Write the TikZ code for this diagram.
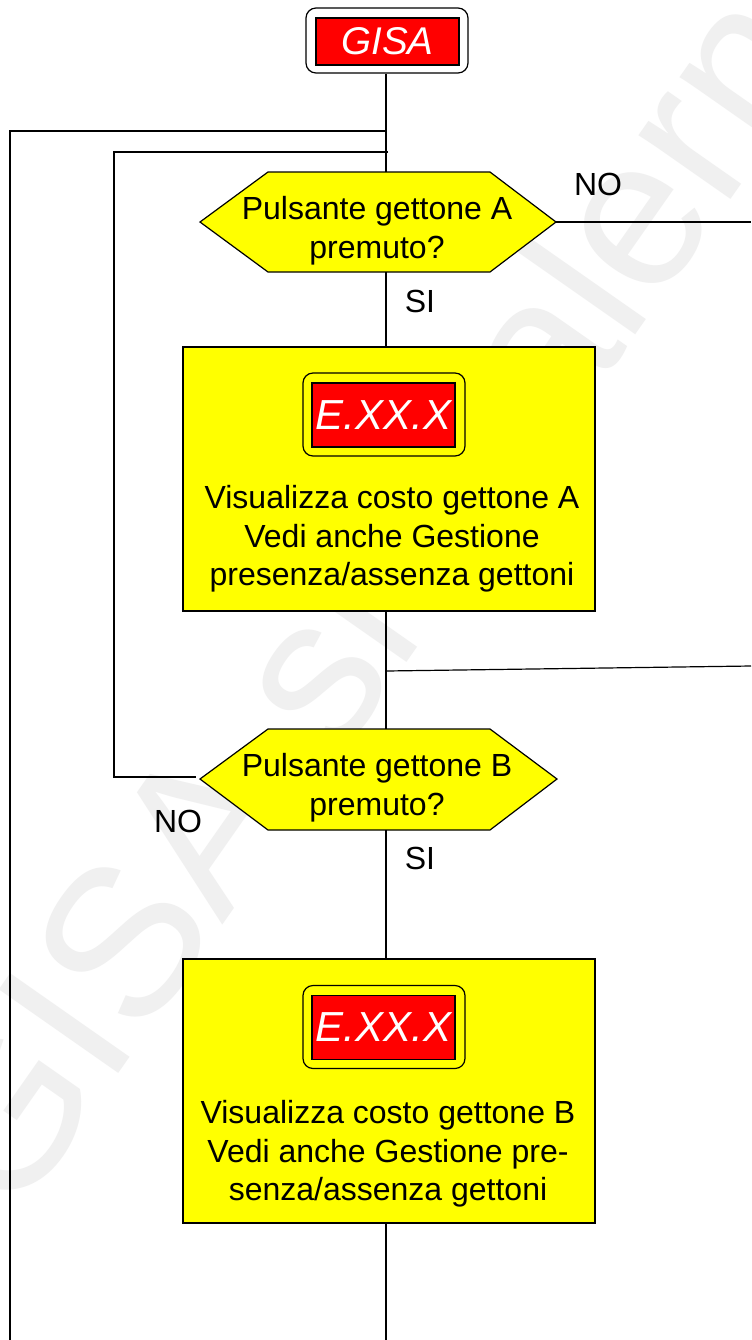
\documentclass[tikz,border=0pt]{standalone}
\usepackage{fontspec}
\setmainfont{Liberation Sans}
\usetikzlibrary{calc}
\definecolor{fyellow}{HTML}{FFFF00}
\definecolor{fred}{HTML}{FF0000}
\begin{document}
\begin{tikzpicture}[x=0.75pt,y=-0.75pt,
  conn/.style={draw=black,line width=0.9pt},
  ybox/.style={draw=black,fill=fyellow,line width=0.9pt,inner sep=0pt,minimum width=412*0.75pt,minimum height=264*0.75pt},
  hexbox/.style={draw=black,fill=fyellow,line width=0.9pt},
  badgeout/.style={draw=black,line width=0.9pt,rounded corners=7.5pt,inner sep=0pt,minimum width=162*0.75pt,minimum height=83*0.75pt},
  badgein/.style={draw=black,fill=fred,line width=0.9pt,inner sep=0pt,minimum width=143*0.75pt,minimum height=64*0.75pt,text=white,font=\fontsize{31.5}{36}\selectfont\itshape},
  txt/.style={align=center,inner sep=0pt,font=\fontsize{24}{29}\selectfont},
  lbl/.style={inner sep=0pt,font=\fontsize{24}{29}\selectfont},
  wmark/.style={text=black!6,inner sep=0pt,font=\fontsize{159}{159}\selectfont}]
\useasboundingbox (0,0) rectangle (751,1340);
\fill[white] (0,0) rectangle (751,1340);
% watermark
\node[wmark,rotate=55,anchor=base west] (wm) at (13,1225) {GISA srl salerno};
% start node
\node[badgeout,fill=white,minimum width=162*0.75pt,minimum height=65*0.75pt] (gisaO) at (387,40.5) {};
\node[badgein,minimum width=143*0.75pt,minimum height=47*0.75pt,font=\fontsize{29}{34}\selectfont\itshape] (gisa) at (387.5,41.5) {GISA};
% decision A
\coordinate (hAw) at (200,222);
\coordinate (hAe) at (556,222);
\coordinate (hAn) at (386,172);
\coordinate (hAs) at (386,272);
\draw[hexbox] (268,172) -- (490,172) -- (hAe) -- (490,272) -- (268,272) -- (hAw) -- cycle;
\node[txt] (hAt) at (377,231) {Pulsante gettone A\\premuto?};
% box A
\node[ybox] (bA) at (389,479) {};
\node[badgeout,fill=fyellow] (bdA) at (384,414.5) {};
\node[badgein] (exA) at (383.5,415) {E.XX.X};
\node[txt] (tA) at (392,539) {Visualizza costo gettone A\\Vedi anche Gestione\\presenza/assenza gettoni};
% decision B
\coordinate (hBw) at (200,779);
\coordinate (hBe) at (557,779);
\coordinate (hBn) at (386,729);
\coordinate (hBs) at (386,830);
\draw[hexbox] (268,729) -- (490,729) -- (hBe) -- (490,830) -- (268,830) -- (hBw) -- cycle;
\node[txt] (hBt) at (377,788) {Pulsante gettone B\\premuto?};
% box B
\node[ybox] (bB) at (389,1091) {};
\node[badgeout,fill=fyellow] (bdB) at (384,1027) {};
\node[badgein] (exB) at (383.5,1027.5) {E.XX.X};
\node[txt] (tB) at (388,1154) {Visualizza costo gettone B\\Vedi anche Gestione pre-\\senza/assenza gettoni};
% labels
\node[lbl] (noA) at (598,184) {NO};
\node[lbl] (siA) at (420,301) {SI};
\node[lbl] (noB) at (178,821) {NO};
\node[lbl] (siB) at (420,858) {SI};
% connector points
\coordinate (j1) at (386,131);
\coordinate (l1t) at (10,131);
\coordinate (l1b) at (10,1340);
\coordinate (j2) at (388,152);
\coordinate (l2t) at (114,152);
\coordinate (l2b) at (114,777);
\coordinate (hBl) at (196,777);
\coordinate (eA) at (751,222);
\coordinate (j3) at (386,671);
\coordinate (eB) at (751,666);
\coordinate (bot) at (386,1340);
% connectors
\draw[conn] (gisaO.south -| hAn) -- (hAn);
\draw[conn] (j1) -- (l1t) -- (l1b);
\draw[conn] (j2) -- (l2t) -- (l2b) -- (hBl);
\draw[conn] (hAe) -- (eA);
\draw[conn] (hAs) -- (hAs |- bA.north);
\draw[conn] (bA.south -| hAs) -- (hBn);
\draw[conn] (j3) -- (eB);
\draw[conn] (hBs) -- (hBs |- bB.north);
\draw[conn] (bB.south -| hBs) -- (bot);
\end{tikzpicture}
\end{document}
